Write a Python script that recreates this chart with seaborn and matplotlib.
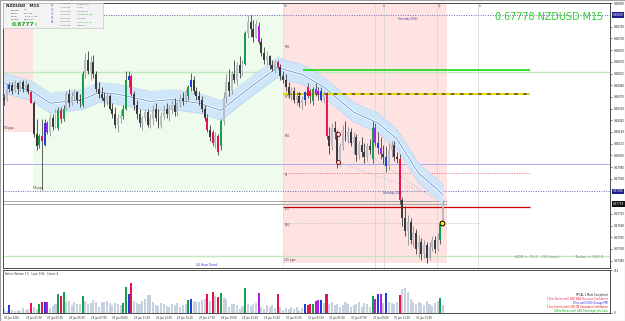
import matplotlib
matplotlib.use("Agg")
import numpy as np
import pandas as pd
import matplotlib.pyplot as plt
import matplotlib.transforms as mtransforms
from matplotlib.patches import Rectangle
import seaborn as sns

# ---------------- data (prices in pips above 0.6700) ----------------
PIP = 0.0001
BASE = 0.6700

opens_p = [137,136,142,144,141,145,142,146,142,144,
           140,134,117,111,116,111,123,118,126,121,
           120,130,125,131,139,134,138,140,136,133,
           150,158,152,157,150,142,139,137,135,138,
           131,128,122,126,127,131,147,149,139,133,
           128,123,126,129,122,125,131,126,122,127,
           131,128,131,133,129,134,137,135,138,143,
           147,141,138,136,131,126,119,118,112,116,
           110,124,137,146,141,150,147,155,151,156,
           173,179,175,171,177,168,162,158,160,155,
           153,157,154,149,147,143,139,141,136,138,
           134,136,143,138,135,142,139,141,136,139,
           116,110,120,118,101,110,119,115,118,112,
           115,105,111,107,104,110,103,120,112,109,
           106,104,99,108,111,104,103,80,70,63,
           68,58,62,53,57,50,55,48,54,58,
           53,58,67]
highs_p = [139,145,146,146,147,146,147,147,147,145,
           141,135,125,117,125,125,124,128,128,131,
           132,132,133,141,142,140,142,141,139,152,
           162,163,160,161,152,146,143,140,140,139,
           134,132,128,130,133,152,152,150,141,136,
           131,127,131,131,128,133,134,131,129,133,
           134,133,136,137,135,139,140,142,144,151,
           149,143,141,138,133,128,122,119,118,117,
           125,140,150,153,152,158,157,160,158,174,
           183,183,180,180,179,170,165,163,161,158,
           158,158,156,152,150,146,143,143,140,140,
           138,141,145,142,143,145,143,143,141,140,
           121,123,124,119,112,122,124,121,120,118,
           117,113,115,112,112,114,124,123,118,115,
           111,110,112,113,113,107,106,82,77,72,
           70,66,64,61,59,58,57,57,60,60,
           62,68,80]
lows_p = [133,135,140,139,140,139,141,140,141,139,
          134,115,108,109,86,110,117,116,119,120,
          119,123,124,130,132,133,135,134,132,132,
          148,150,147,148,140,137,136,132,133,130,
          126,120,118,123,125,130,143,138,130,125,
          121,119,124,121,120,122,124,120,120,125,
          126,124,128,127,127,132,133,134,136,141,
          139,136,133,129,124,118,113,110,109,105,
          108,122,134,138,139,145,144,148,149,155,
          170,171,168,170,167,160,156,155,153,152,
          151,153,147,145,141,137,136,134,133,132,
          131,133,137,134,133,138,136,135,134,114,
          106,108,114,98,99,108,113,112,110,106,
          102,103,104,101,102,106,101,110,106,103,
          100,96,97,104,102,101,78,66,60,55,
          56,54,50,48,47,48,45,47,52,51,
          52,56,66]
closes_p = [136,142,144,141,145,142,146,142,144,140,
            134,117,110,116,113,123,118,126,121,129,
            130,125,131,139,134,138,140,136,135,150,
            158,152,157,150,142,139,137,135,138,131,
            128,122,126,127,131,147,149,139,133,128,
            123,126,129,122,125,131,126,122,127,131,
            128,131,133,129,134,137,135,140,143,147,
            141,138,136,131,126,119,115,112,116,107,
            124,137,146,141,150,147,155,151,156,173,
            179,175,171,178,168,162,158,160,155,153,
            157,154,149,147,143,139,141,136,138,134,
            136,140,138,141,142,139,141,136,139,116,
            110,120,118,101,110,119,115,118,112,115,
            105,111,107,104,110,108,120,112,109,106,
            104,99,108,111,104,103,80,70,63,68,
            58,62,53,57,50,55,48,54,58,53,
            60,67,77.8]
volumes = [40,20,80,30,20,35,25,50,30,45,
           110,60,40,100,115,115,115,50,70,90,
           200,180,220,120,130,80,120,100,90,180,
           130,90,110,140,120,60,120,120,130,110,
           80,110,100,80,110,270,200,320,130,110,
           90,130,150,190,190,120,80,70,110,90,
           70,60,90,80,110,60,80,90,140,150,
           130,120,120,140,150,200,130,220,180,170,
           210,170,150,60,100,90,80,40,70,260,
           90,70,100,110,210,60,40,80,60,80,
           50,200,60,30,50,40,60,40,60,30,
           50,90,85,95,95,130,140,140,110,200,
           90,120,80,100,60,80,120,90,60,80,
           100,120,60,110,100,60,180,150,200,200,
           110,210,120,110,100,120,190,250,260,220,
           150,120,90,120,110,80,130,90,70,110,
           130,160,80]

mark_green = [13, 20, 22, 29, 44, 45, 68, 80, 89, 114, 136, 161]
mark_red = [10, 14, 21, 47, 75, 77, 79, 101, 112, 113, 119, 146]
mark_blue = [2, 15, 46, 69, 111, 117, 138, 141]
mark_magenta = [16, 94, 115, 116, 137, 139]

ma_index = [0, 10, 17, 29, 35, 42, 54, 62, 72, 80, 91, 101, 105, 110, 118, 129, 138, 145, 153, 160, 162]
ma_pips = [145, 141, 134, 136, 140, 139, 135, 136, 134, 130, 143, 154, 152, 150, 143, 129, 123, 114, 95, 86, 83]
ma_band_pips = 5.5

# session boundaries (bar index) and ranges
friday_start, monday_start, today_start, today_end = -0.4, 10.7, 103.0, 163.5
friday_low = 118.0
yday_high, yday_low = 183.0, 85.0
today_low = 45.0

pale_green_levels = [151.5, 49.0]
bright_green_level = 152.5
pivot_level = 139.0
blue_level = 100.2
s1_level = 95.2
gray_levels = [79.6, 78.0]
red_level = 76.3
gray_dotted_level = 67.4

pivot_names = ["MR1", "PVT", "MS1", "S1", "PDL", "MS2"]
pivot_name_pips = [165.3, 137.5, 115.8, 94.1, 75.2, 66.3]

session_line_idx = [136.9, 140.2, 159.8, 174.9]
session_names = ["Asi", "Lo", "Ny", "Lo"]
session_name_idx = [103.3, 139.8, 160.0, 175.2]

circle_idx = [123.2, 123.2]
circle_pips = [116.9, 101.3]
yellow_idx, yellow_pips = 161.6, 67.4
trend_a = ([123.2, 159.0], [116.9, 80.5])
trend_b = ([123.2, 156.0], [101.3, 84.0])

price_ticks = [0.68895, 0.68765, 0.68700, 0.68635, 0.68570, 0.68505, 0.68440, 0.68375,
               0.68310, 0.68245, 0.68180, 0.68115, 0.68050, 0.67985, 0.67920, 0.67725,
               0.67660, 0.67595, 0.67530, 0.67465]
flag_values = [0.68830, 0.67850, 0.67778]
flag_texts = ["0.68830", "0.67850", "0.67778"]

time_idx = [0, 8, 16, 24, 32, 40, 48, 56, 64, 72, 80, 88, 96, 104, 112, 120, 128, 136, 144, 152]
time_labels = ["26 Jun 2015", "29 Jun 01:00", "29 Jun 03:00", "29 Jun 05:00", "29 Jun 07:00",
               "29 Jun 09:00", "29 Jun 11:00", "29 Jun 13:00", "29 Jun 15:00", "29 Jun 17:00",
               "29 Jun 19:00", "29 Jun 21:00", "29 Jun 23:00", "30 Jun 01:00", "30 Jun 03:00",
               "30 Jun 05:00", "30 Jun 07:00", "30 Jun 09:00", "30 Jun 11:00", "30 Jun 13:00"]

news_lines = ["PPCAL 1 Mark Completed",
              "12hrs 0mins until NZD ANZ Business Confidence",
              "8 hrs until USD Chicago PMI",
              "1 hrs 0 mins until USD CB Consumer Confidence",
              "22hrs 0mins until USD Challenger Job Cuts"]
news_colors = ["#202020", "#e8204a", "#2020e0", "#e00000", "#009a00"]

# ---------------- setup ----------------
sns.set_style("white")
plt.rcParams['font.family'] = ['DejaVu Sans']

W, H = 625, 321
fig = plt.figure(figsize=(W / 100, H / 100), dpi=100)
fig.patch.set_facecolor("white")


def px_axes(x0, y0, x1, y1):
    return fig.add_axes([x0 / W, 1 - y1 / H, (x1 - x0) / W, (y1 - y0) / H])


def ftxt(x, y, s, **kw):
    kw.setdefault("va", "center")
    fig.text(x / W, 1 - y / H, s, **kw)


def P(v):
    return BASE + np.asarray(v, dtype=float) * PIP


ax = px_axes(3, 3, 610, 268)
axv = px_axes(3, 270, 610, 313)
XMIN, XMAX = -0.37, 223.6
YMIN, YMAX = 0.67424, 0.68897

N = len(closes_p)
idx = np.arange(N)
o, h, l, c = P(opens_p), P(highs_p), P(lows_p), P(closes_p)

kind = ["n"] * N
for lst, k in [(mark_green, "g"), (mark_red, "r"), (mark_blue, "b"), (mark_magenta, "m")]:
    for i in lst:
        kind[i] = k
pal = {"n": "#c6d0de", "g": "#14a04c", "r": "#e8124c", "b": "#1f3fd6", "m": "#b01ee6"}

# ---------------- main panel ----------------
ax.set_xlim(XMIN, XMAX)
ax.set_ylim(YMIN, YMAX)

ax.add_patch(Rectangle((friday_start, P(friday_low)), monday_start - friday_start,
                       YMAX - P(friday_low), fc="#ffe2e2", ec="none", zorder=0))
ax.add_patch(Rectangle((monday_start, P(yday_low)), today_start - monday_start,
                       P(yday_high) - P(yday_low), fc="#effbec", ec="none", zorder=0))
ax.add_patch(Rectangle((today_start, P(today_low)), today_end - today_start,
                       YMAX - P(today_low), fc="#ffe3e3", ec="none", zorder=0))

for xi in session_line_idx:
    ax.axvline(xi, color="#d6d6d6", lw=0.5, zorder=1)
ax.axvline(today_start, color="#dcdcdc", lw=0.5, zorder=1)

for lv in pale_green_levels:
    ax.axhline(P(lv), color="#bfe8bf", lw=1.0, zorder=1)
ax.hlines(P(bright_green_level), 110.3, 194.1, color="#22dd22", lw=1.3, zorder=3)
ax.hlines(P(pivot_level), today_start, 194.1, color="#6b5e00", lw=1.3, zorder=3)
ax.hlines(P(pivot_level), today_start, 194.1, color="#f2e600", lw=1.3, zorder=3,
          linestyles=(0, (3, 2)))
ax.axhline(P(blue_level), color="#a6acf2", lw=0.7, zorder=1)
ax.hlines(P(s1_level), today_start, 194.1, color="#ee7070", lw=0.7, zorder=1,
          linestyles=(0, (1, 1.5)))
ax.hlines(P(yday_high), monday_start, XMAX, color="#6a6ab4", lw=0.7, zorder=1,
          linestyles=(0, (1, 1.5)))
ax.hlines(P(yday_low), XMIN, XMAX, color="#6a6ab4", lw=0.7, zorder=1,
          linestyles=(0, (1, 1.5)))
for lv in gray_levels:
    ax.hlines(P(lv), XMIN, today_end, color="#9a9a9a", lw=0.6, zorder=1)
ax.hlines(P(red_level), today_start, 194.1, color="#c80000", lw=0.9, zorder=3)
ax.hlines(P(gray_dotted_level), today_start, 175.6, color="#b8b8b8", lw=0.6, zorder=1,
          linestyles=(0, (1, 1.5)))

ax.plot(trend_a[0], P(trend_a[1]), color="#b8c0dc", lw=0.5, ls=(0, (2, 1.5)), zorder=2)
ax.plot(trend_b[0], P(trend_b[1]), color="#b8c0dc", lw=0.5, ls=(0, (2, 1.5)), zorder=2)

# moving-average band
ma = P(ma_pips)
ax.fill_between(ma_index, ma - ma_band_pips * PIP, ma + ma_band_pips * PIP,
                color="#cfe5f8", lw=0, zorder=2)
ax.plot(ma_index, ma + ma_band_pips * PIP, color="#b9d8f4", lw=0.5, zorder=2)
ax.plot(ma_index, ma - ma_band_pips * PIP, color="#b9d8f4", lw=0.5, zorder=2)
ax.plot(ma_index, ma, color="white", lw=1.8, zorder=2)
sns.lineplot(x=ma_index, y=ma, ax=ax, color="#5c92d8", lw=0.6, zorder=2)

# candles
bull, bear = "#b7bec6", "#3a3a3a"
body_cols, wick_cols = [], []
for i in range(N):
    if kind[i] != "n":
        body_cols.append(pal[kind[i]])
        wick_cols.append("#4a4a4a")
    elif c[i] >= o[i]:
        body_cols.append(bull)
        wick_cols.append("#8c949c")
    else:
        body_cols.append(bear)
        wick_cols.append(bear)
ax.vlines(idx, l, h, colors=wick_cols, lw=0.6, zorder=4)
bottoms = np.minimum(o, c)
heights = np.maximum(np.abs(c - o), 0.4 * PIP)
ax.bar(idx, heights, bottom=bottoms, width=0.72, color=body_cols, lw=0, zorder=5)

ax.scatter(circle_idx, P(circle_pips), s=8, facecolor="white", edgecolor="#8b1010",
           linewidths=0.7, zorder=6)
ax.scatter([yellow_idx], [P(yellow_pips)], s=12, facecolor="#ffee00", edgecolor="black",
           linewidths=0.7, zorder=6)

# level names and labels
for name, pv in zip(pivot_names, pivot_name_pips):
    ax.text(today_start + 0.5, P(pv), name, fontsize=1.9, color="#505050", va="center",
            ha="left", zorder=7)
for name, xi in zip(session_names, session_name_idx):
    ax.text(xi, YMAX - 0.5 * PIP, name, fontsize=1.9, color="#6070a0", va="top",
            ha="left", zorder=7)
ax.text(145.0, P(yday_high) - 2.0 * PIP, "Yesterday HIGH", fontsize=1.9, color="#4040a0",
        va="center", ha="left", zorder=7)
ax.text(139.5, P(yday_low) - 1.0 * PIP, "Yesterday LOW", fontsize=1.9, color="#4040a0",
        va="center", ha="left", zorder=7)
ax.text(0.0, P(friday_low) + 1.0 * PIP, "90 pips", fontsize=2.0, color="#404040",
        va="bottom", ha="left", zorder=7)
ax.text(monday_start, P(yday_low) + 0.5 * PIP, "98 pips", fontsize=2.0, color="#404040",
        va="bottom", ha="left", zorder=7)
ax.text(today_start + 0.3, P(today_low) + 0.5 * PIP, "105 pips", fontsize=2.0, color="#404040",
        va="bottom", ha="left", zorder=7)

ax.set_xticks([])
ax.yaxis.tick_right()
ax.set_yticks(price_ticks)
ax.set_yticklabels([f"{v:.5f}" for v in price_ticks])
ax.tick_params(axis="y", labelsize=2.0, length=1.5, width=0.4, pad=1.0, colors="#202020")
for sp in ax.spines.values():
    sp.set_color("#303030")
    sp.set_linewidth(0.6)

trans = mtransforms.blended_transform_factory(ax.transAxes, ax.transData)
for val, txt, fc in zip(flag_values, flag_texts, ["#1c1c8c", "#1c1c8c", "#101010"]):
    ax.text(1.004, val, txt, transform=trans, fontsize=2.0, color="white", va="center",
            ha="left", clip_on=False, zorder=8,
            bbox=dict(boxstyle="square,pad=0.3", fc=fc, ec="none"))

# ---------------- volume panel ----------------
vol_df = pd.DataFrame({"idx": idx, "volume": volumes, "kind": kind})
sns.barplot(data=vol_df, x="idx", y="volume", hue="kind", palette=pal, native_scale=True,
            dodge=False, width=0.75, saturation=1, errorbar=None, legend=False, ax=axv,
            linewidth=0)
axv.set_xlim(XMIN, XMAX)
axv.set_ylim(0, 453)
axv.set_xlabel("")
axv.set_ylabel("")
axv.yaxis.tick_right()
axv.set_yticks([0, 453])
axv.set_yticklabels(["0", "453"])
axv.tick_params(axis="y", labelsize=2.0, length=1.5, width=0.4, pad=1.0)
axv.set_xticks(time_idx)
axv.set_xticklabels(time_labels, ha="left")
axv.tick_params(axis="x", labelsize=1.8, length=1.5, width=0.4, pad=1.0)
for sp in axv.spines.values():
    sp.set_color("#303030")
    sp.set_linewidth(0.6)

axv.text(0.003, 0.96, "Better Volume 1.5   Last: 0.0k   Count: 6", transform=axv.transAxes,
         fontsize=1.9, color="#303030", va="top", ha="left")
for k, (s, col) in enumerate(zip(news_lines, news_colors)):
    ftxt(608, 295 + k * 3.9, s, fontsize=1.8, color=col, ha="right")

# ---------------- overlays ----------------
ftxt(603, 17.5, "0.67778 NZDUSD M15", fontsize=6.9, color="#2ecc2e", ha="right")
ftxt(515, 257, "ADR = 75.2   (10 days)", fontsize=2.8, color="#8c8c8c", ha="left")
ftxt(603, 257, "Today = 104.9", fontsize=2.8, color="#8c8c8c", ha="right")
ftxt(206, 265, "24 Hour Trend", fontsize=2.2, color="#3030c0", ha="center")

# info box
fig.patches.append(Rectangle((3 / W, 1 - 28 / H), 100 / W, 25 / H, transform=fig.transFigure,
                             fc="#f3f3f3", ec="#c8c8c8", lw=0.5, zorder=10))
ftxt(6, 6, "NZDUSD   M15", fontsize=3.0, fontweight="bold", color="#202020", ha="left", zorder=11)
for k, (a, b) in enumerate([("Spread", "1.6"), ("Range", "26 / 50"),
                            ("Swap", "-4.15 / 1.09"), ("Candle", "00:14:47")]):
    ftxt(11, 10 + k * 3.3, a, fontsize=1.7, color="#404040", ha="left", zorder=11)
    ftxt(24, 10 + k * 3.3, b, fontsize=1.7, color="#404040", ha="left", zorder=11)
ftxt(12, 24.5, "0.6777", fontsize=4.2, fontweight="bold", color="#20a020", ha="left", zorder=11)
ftxt(35, 25, "8", fontsize=2.2, color="#20a020", ha="left", zorder=11)
for k, ch in enumerate("PVSRA"):
    ftxt(52, 6 + k * 4.1, ch, fontsize=2.6, color="#6868d0", ha="center", zorder=11)
times = ["11:00 PM", "02:00 PM", "03:00 PM", "03:00 PM", "05:00 PM", "06:00 PM", "10:00 PM"]
places = ["Sydney (1)", "Tokyo", "HongKong", "Singapore (8)", "Frankfurt", "London (0+1)", "NewYork"]
pcols = ["#707070", "#707070", "#707070", "#20a020", "#707070", "#20a020", "#20a020"]
for k in range(7):
    ftxt(60, 4 + k * 3.55, times[k], fontsize=1.6, color="#606060", ha="left", zorder=11)
    ftxt(77, 4 + k * 3.55, places[k], fontsize=1.6, color=pcols[k], ha="left", zorder=11)

fig.patches.append(Rectangle((0, 0), 1, 1, transform=fig.transFigure, fc="none",
                             ec="#a0a0a0", lw=0.8, zorder=20))

fig.savefig("out.png", dpi=100)
